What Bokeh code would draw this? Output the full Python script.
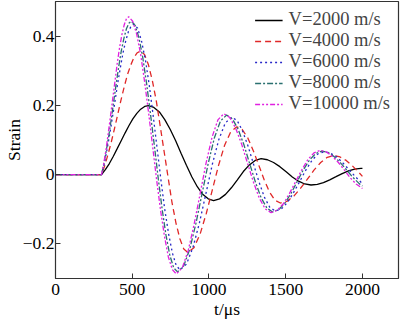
from bokeh.plotting import figure
from bokeh.models import Range1d, FixedTicker
from bokeh.embed import file_html
from bokeh.resources import INLINE

# time (µs) and strain for each wave velocity
t_2000 = [0, 300, 326, 351, 377, 402, 428, 453, 479, 504, 530, 555, 581, 606, 641, 677, 712, 747, 783, 818, 853, 889, 924, 959, 995, 1030, 1069, 1108, 1146, 1185, 1224, 1263, 1301, 1340, 1381, 1421, 1462, 1503, 1543, 1584, 1624, 1665, 1706, 1746, 1787, 1828, 1868, 1909, 1949, 1990, 2000]
strain_2000 = [0, 0, 0.015, 0.032, 0.053, 0.075, 0.098, 0.120, 0.142, 0.161, 0.177, 0.189, 0.197, 0.199, 0.194, 0.181, 0.159, 0.131, 0.098, 0.062, 0.027, -0.007, -0.035, -0.057, -0.070, -0.075, -0.070, -0.057, -0.038, -0.015, 0.009, 0.028, 0.041, 0.046, 0.043, 0.035, 0.023, 0.008, -0.007, -0.019, -0.027, -0.030, -0.028, -0.023, -0.015, -0.006, 0.003, 0.011, 0.016, 0.018, 0.018]

t_4000 = [0, 300, 321, 342, 364, 385, 406, 427, 448, 469, 491, 512, 533, 554, 580, 605, 631, 657, 682, 708, 734, 759, 785, 811, 836, 862, 902, 942, 982, 1022, 1062, 1102, 1142, 1182, 1217, 1253, 1288, 1324, 1359, 1394, 1430, 1465, 1509, 1553, 1596, 1640, 1684, 1728, 1771, 1815, 1854, 1894, 1933, 1973, 2000]
strain_4000 = [0, 0, 0.026, 0.058, 0.095, 0.134, 0.175, 0.216, 0.254, 0.289, 0.317, 0.339, 0.352, 0.357, 0.347, 0.318, 0.272, 0.212, 0.141, 0.066, -0.009, -0.080, -0.140, -0.186, -0.215, -0.225, -0.211, -0.172, -0.113, -0.044, 0.026, 0.085, 0.124, 0.138, 0.130, 0.106, 0.070, 0.028, -0.014, -0.050, -0.074, -0.082, -0.077, -0.062, -0.040, -0.014, 0.013, 0.035, 0.050, 0.055, 0.051, 0.041, 0.026, 0.008, -0.005]

t_6000 = [0, 300, 318, 335, 353, 370, 388, 405, 423, 440, 458, 475, 493, 510, 535, 560, 586, 611, 636, 661, 686, 711, 737, 762, 787, 812, 854, 896, 938, 980, 1022, 1064, 1106, 1148, 1184, 1219, 1255, 1290, 1326, 1361, 1397, 1432, 1472, 1512, 1551, 1591, 1631, 1671, 1710, 1750, 1791, 1833, 1874, 1915, 1956, 2000]
strain_6000 = [0, 0, 0.032, 0.071, 0.115, 0.163, 0.213, 0.263, 0.310, 0.352, 0.387, 0.413, 0.429, 0.435, 0.423, 0.387, 0.331, 0.258, 0.172, 0.080, -0.012, -0.098, -0.171, -0.227, -0.263, -0.275, -0.258, -0.210, -0.139, -0.055, 0.030, 0.101, 0.149, 0.166, 0.156, 0.126, 0.082, 0.031, -0.021, -0.065, -0.095, -0.105, -0.099, -0.080, -0.052, -0.020, 0.013, 0.041, 0.060, 0.066, 0.062, 0.051, 0.033, 0.013, -0.007, -0.026]

t_8000 = [0, 300, 316, 332, 349, 365, 381, 397, 413, 429, 446, 462, 478, 494, 519, 544, 569, 594, 619, 645, 670, 695, 720, 745, 770, 795, 835, 875, 915, 955, 995, 1035, 1075, 1115, 1153, 1190, 1228, 1265, 1303, 1340, 1378, 1415, 1455, 1495, 1535, 1575, 1615, 1655, 1695, 1735, 1776, 1816, 1857, 1898, 1938, 1979, 2000]
strain_8000 = [0, 0, 0.033, 0.072, 0.117, 0.166, 0.217, 0.267, 0.315, 0.358, 0.394, 0.421, 0.437, 0.443, 0.431, 0.395, 0.337, 0.262, 0.175, 0.081, -0.013, -0.100, -0.175, -0.233, -0.269, -0.281, -0.264, -0.215, -0.141, -0.055, 0.032, 0.106, 0.155, 0.172, 0.161, 0.131, 0.086, 0.032, -0.022, -0.067, -0.097, -0.108, -0.101, -0.082, -0.054, -0.020, 0.014, 0.042, 0.061, 0.068, 0.064, 0.052, 0.034, 0.013, -0.008, -0.026, -0.033]

t_10000 = [0, 300, 315, 330, 344, 359, 374, 389, 403, 418, 433, 448, 462, 477, 503, 529, 555, 580, 606, 632, 658, 684, 710, 735, 761, 787, 826, 865, 903, 942, 981, 1020, 1058, 1097, 1136, 1174, 1213, 1251, 1290, 1328, 1367, 1405, 1445, 1485, 1525, 1565, 1605, 1645, 1685, 1725, 1764, 1804, 1843, 1883, 1922, 1961, 2000]
strain_10000 = [0, 0, 0.034, 0.074, 0.121, 0.171, 0.223, 0.275, 0.324, 0.368, 0.405, 0.433, 0.450, 0.456, 0.443, 0.406, 0.347, 0.270, 0.181, 0.085, -0.012, -0.101, -0.178, -0.237, -0.274, -0.287, -0.269, -0.219, -0.144, -0.056, 0.033, 0.108, 0.158, 0.176, 0.165, 0.134, 0.088, 0.033, -0.022, -0.068, -0.099, -0.110, -0.103, -0.084, -0.054, -0.020, 0.014, 0.044, 0.063, 0.070, 0.066, 0.053, 0.035, 0.013, -0.010, -0.028, -0.040]

legend_labels = ["V=2000 m/s", "V=4000 m/s", "V=6000 m/s", "V=8000 m/s", "V=10000 m/s"]
x_ticks = [0, 500, 1000, 1500, 2000]
y_ticks = [-0.2, 0, 0.2, 0.4]
y_tick_labels = {-0.2: "\u22120.2", 0: "0", 0.2: "0.2", 0.4: "0.4"}

FONT = "Liberation Serif"

p = figure(width=400, height=321, output_backend="svg", toolbar_location=None,
           x_range=Range1d(0, 2235), y_range=Range1d(-0.3, 0.5),
           min_border_left=55, min_border_right=2, min_border_top=1, min_border_bottom=43)

series = [
    (t_2000, strain_2000, "black", "solid"),
    (t_4000, strain_4000, "#E02828", "6 4"),
    (t_6000, strain_6000, "#2828C8", "2 3"),
    (t_8000, strain_8000, "#2A7070", "6 2 2 2"),
    (t_10000, strain_10000, "#E020E0", "5 2 2 2 2 2"),
]
for (tx, sy, col, dash), lab in zip(series, legend_labels):
    p.line(tx, sy, line_color=col, line_dash=dash, line_width=1.3, legend_label=lab)

p.grid.visible = False
p.outline_line_color = "#333333"
p.outline_line_width = 1.2
p.background_fill_color = "white"
p.border_fill_color = "white"

for ax in (p.xaxis[0], p.yaxis[0]):
    ax.major_tick_in = 5
    ax.major_tick_out = 0
    ax.minor_tick_line_color = None
    ax.axis_line_color = "#333333"
    ax.major_tick_line_color = "#333333"
    ax.major_label_text_font = FONT
    ax.major_label_text_font_size = "17.5px"
    ax.major_label_text_color = "black"
    ax.axis_label_text_font = FONT
    ax.axis_label_text_font_size = "17.5px"
    ax.axis_label_text_font_style = "normal"
    ax.axis_label_text_color = "black"

p.xaxis.ticker = FixedTicker(ticks=x_ticks)
p.yaxis.ticker = FixedTicker(ticks=y_ticks)
p.yaxis.major_label_overrides = y_tick_labels
p.xaxis.axis_label = "t/\u03bcs"
p.yaxis.axis_label = "Strain"
p.xaxis.major_label_standoff = 5
p.xaxis.axis_label_standoff = 1
p.yaxis.major_label_standoff = 1
p.yaxis.axis_label_standoff = -4

lg = p.legend[0]
lg.location = "top_right"
lg.border_line_color = None
lg.background_fill_alpha = 0
lg.label_text_font = FONT
lg.label_text_font_size = "18.5px"
lg.glyph_width = 28
lg.glyph_height = 18
lg.label_height = 18
lg.label_standoff = 6
lg.spacing = -4
lg.margin = 8
lg.padding = 4

open("out.html", "w").write(file_html(p, INLINE))
